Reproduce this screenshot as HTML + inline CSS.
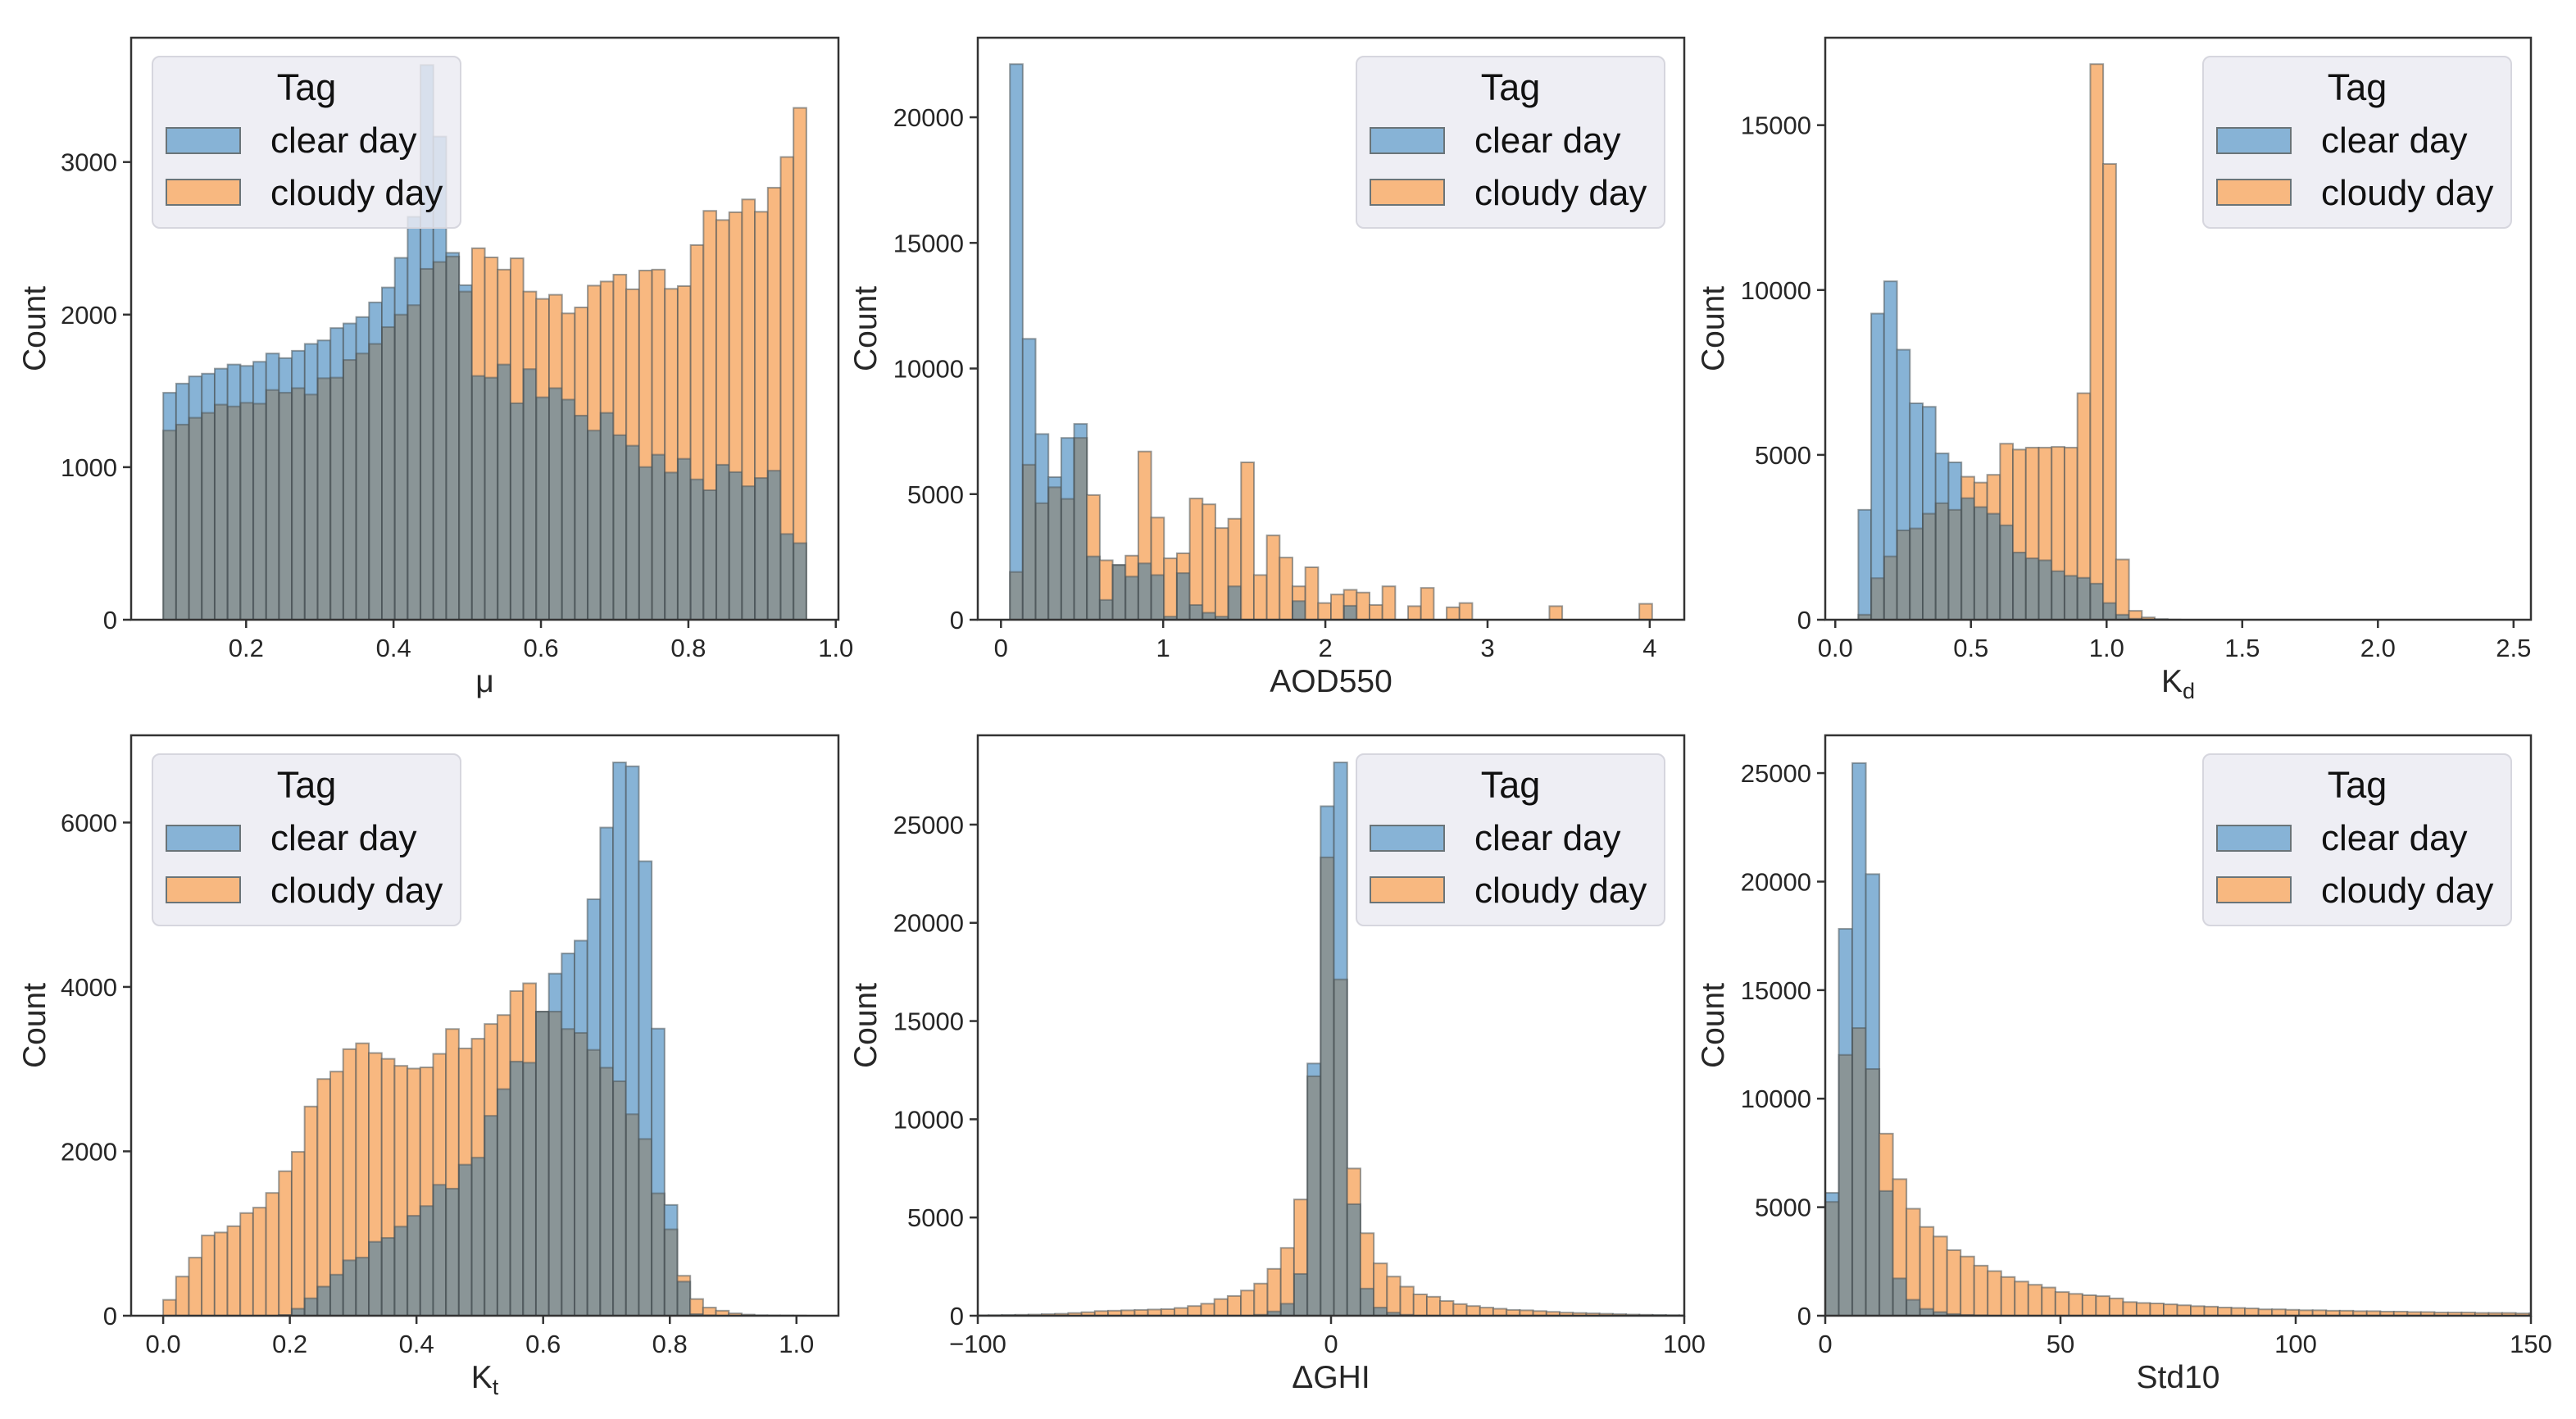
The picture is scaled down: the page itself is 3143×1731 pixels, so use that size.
<!DOCTYPE html>
<html><head><meta charset="utf-8"><style>
html,body{margin:0;padding:0;background:#fff;}
svg{display:block;font-family:"Liberation Sans",Arial,sans-serif;}
</style></head>
<body>
<svg id="fig" width="3143" height="1731" viewBox="0 0 3143 1731" xmlns="http://www.w3.org/2000/svg"></svg>
<script>
// ---- data ----
const clear1 = [1488,1548,1595,1613,1646,1673,1664,1691,1745,1715,1763,1808,1831,1912,1942,1984,2080,2178,2372,2641,3636,3167,2405,2193,1598,1587,1673,1419,1643,1458,1518,1443,1338,1240,1356,1210,1141,1001,1082,965,1055,920,849,1016,968,875,929,977,562,502];
const cloudy1 = [1240,1279,1324,1356,1410,1398,1422,1416,1506,1488,1518,1476,1583,1587,1703,1745,1808,1918,2000,2062,2300,2345,2381,2151,2435,2375,2295,2369,2151,2103,2130,2008,2047,2190,2217,2262,2166,2289,2295,2169,2187,2456,2680,2620,2671,2755,2674,2832,3033,3355];
const clear2 = [22115,11181,7392,5676,7238,7795,2521,789,2180,1717,2243,1779,124,1856,588,278,124,1330,0,0,0,0,742,0,0,0,557,0,0,0,0,0,0,0,0,0,0,0,0,0,0,0,0,0,0,0,0,0,0,0];
const cloudy2 = [1902,6171,4640,5274,4810,7238,4964,2366,2180,2552,6697,4067,2444,2645,4826,4594,3650,4021,6264,1779,3356,2475,1330,2088,665,1005,1191,1083,588,1330,0,541,1268,0,495,665,0,0,0,0,0,0,541,0,0,0,0,0,0,634];
const clear3 = [3335,9286,10264,8190,6564,6458,5044,4773,3688,3417,3217,2864,2039,1862,1803,1473,1332,1273,1096,507,153,30,10,0,0,0,0,0,0,0,0,0,0,0,0,0,0,0,0,0,0,0,0,0,0,0,0,0,0,0];
const cloudy3 = [153,1261,1921,2710,2769,3217,3535,3335,4337,4160,4396,5339,5161,5220,5220,5244,5220,6870,16851,13823,1827,271,71,20,5,0,0,0,0,0,0,0,0,0,0,0,0,0,0,0,0,0,0,0,0,0,0,0,0,0];
const clear4 = [0,0,0,0,0,0,0,0,0,10,85,212,354,500,674,707,900,947,1084,1216,1334,1593,1546,1838,1923,2432,2757,3092,3078,3700,4162,4407,4563,5067,5939,6731,6684,5529,3493,1348,415,20,5,0,0,0,0,0,0,0];
const cloudy4 = [193,476,707,976,1013,1089,1249,1315,1494,1758,1994,2545,2880,2970,3243,3314,3196,3125,3040,3007,3021,3186,3488,3252,3370,3549,3658,3950,4044,3700,3700,3488,3441,3234,3017,2852,2451,2150,1489,1051,486,203,99,61,28,14,6,4,3,2];
const clear5 = [0,0,0,0,0,0,0,0,0,0,0,0,0,0,0,0,0,0,0,0,0,50,217,611,2130,12840,25937,28166,5680,1381,414,158,50,0,0,0,0,0,0,0,0,0,0,0,0,0,0,0,0,0,0,0,0,0];
const cloudy5 = [25,30,40,50,60,80,99,138,178,237,256,276,296,316,335,394,493,611,848,1006,1282,1637,2387,3452,5917,12190,23333,17120,7495,4201,2663,1992,1479,1085,966,750,592,493,414,355,296,276,237,197,158,138,118,99,79,60,50,40,30,25];
const clear6 = [5663,17827,25461,20344,5747,1720,734,315,168,80,40,20,0,0,0,0,0,0,0,0,0,0,0,0,0,0,0,0,0,0,0,0,0,0,0,0,0,0,0,0,0,0,0,0,0,0,0,0,0,0,0,0,0];
const cloudy6 = [5243,12018,13255,11367,8389,6292,4929,4090,3649,3020,2727,2307,2055,1783,1573,1426,1300,1091,1007,944,902,797,629,587,566,524,482,440,419,378,357,336,294,294,273,252,252,231,231,210,210,189,189,168,168,147,147,147,126,126,126,105,105];
const xticks1 = [0.2,0.4,0.6,0.8,1.0]; const xtickLabels1 = ["0.2","0.4","0.6","0.8","1.0"];
const yticks1 = [0,1000,2000,3000];
const xticks2 = [0,1,2,3,4]; const xtickLabels2 = ["0","1","2","3","4"];
const yticks2 = [0,5000,10000,15000,20000];
const xticks3 = [0,0.5,1,1.5,2,2.5]; const xtickLabels3 = ["0.0","0.5","1.0","1.5","2.0","2.5"];
const yticks3 = [0,5000,10000,15000];
const xticks4 = [0,0.2,0.4,0.6,0.8,1.0]; const xtickLabels4 = ["0.0","0.2","0.4","0.6","0.8","1.0"];
const yticks4 = [0,2000,4000,6000];
const xticks5 = [-100,0,100]; const xtickLabels5 = ["\u2212100","0","100"];
const yticks5 = [0,5000,10000,15000,20000,25000];
const xticks6 = [0,50,100,150]; const xtickLabels6 = ["0","50","100","150"];
const yticks6 = [0,5000,10000,15000,20000,25000];

const NS = "http://www.w3.org/2000/svg";
const svg = document.getElementById("fig");
function mk(tag, attrs, parent){ const e=document.createElementNS(NS,tag); for(const k in attrs) e.setAttribute(k,attrs[k]); (parent||svg).appendChild(e); return e; }

const panels = [
 {id:1,box:[160,46,1023,756],bin0:0.0876,bw:0.01745,xlim:[0.044,1.0036],ymax:3815,clear:clear1,cloudy:cloudy1,xt:xticks1,xtl:xtickLabels1,yt:yticks1,label:["μ",""],leg:"left"},
 {id:2,box:[1193,46,2055,756],bin0:0.055,bw:0.0792,xlim:[-0.143,4.213],ymax:23167,clear:clear2,cloudy:cloudy2,xt:xticks2,xtl:xtickLabels2,yt:yticks2,label:["AOD550",""],leg:"right"},
 {id:3,box:[2227,46,3088,756],bin0:0.085,bw:0.0475,xlim:[-0.037,2.564],ymax:17652,clear:clear3,cloudy:cloudy3,xt:xticks3,xtl:xtickLabels3,yt:yticks3,label:["K","d"],leg:"right"},
 {id:4,box:[160,897,1023,1605],bin0:0,bw:0.0203,xlim:[-0.0506,1.0663],ymax:7061,clear:clear4,cloudy:cloudy4,xt:xticks4,xtl:xtickLabels4,yt:yticks4,label:["K","t"],leg:"left"},
 {id:5,box:[1193,897,2055,1605],bin0:-100.7,bw:3.76,xlim:[-100,100],ymax:29546,clear:clear5,cloudy:cloudy5,xt:xticks5,xtl:xtickLabels5,yt:yticks5,label:["ΔGHI",""],leg:"right"},
 {id:6,box:[2227,897,3088,1605],bin0:0,bw:2.878,xlim:[0,150],ymax:26740,clear:clear6,cloudy:cloudy6,xt:xticks6,xtl:xtickLabels6,yt:yticks6,label:["Std10",""],leg:"right"}
];

const BLUE="#87b3d6", ORANGE="#f8b880", GRAY="#8a9597";

panels.forEach(p=>{
  const [L,T,R,B]=p.box;
  const xs = v => L + (v-p.xlim[0])/(p.xlim[1]-p.xlim[0])*(R-L);
  const ys = v => B - v/p.ymax*(B-T);
  const g = mk("g",{});
  
  
  const cp = mk("clipPath",{id:"clip"+p.id},g);
  mk("rect",{x:L,y:T,width:R-L,height:B-T},cp);
  const bars = mk("g",{"clip-path":"url(#clip"+p.id+")"},g);
  
  
  p.clear.forEach((c,i)=>{
    const o = p.cloudy[i];
    const x0 = xs(p.bin0+i*p.bw), x1 = xs(p.bin0+(i+1)*p.bw);
    const lo = Math.min(c,o), hi=Math.max(c,o);
    if(lo>0){
      const r = mk("rect",{x:x0,y:ys(lo),width:x1-x0,height:B-ys(lo),fill:GRAY},bars);
      
      
    }
    if(hi>lo){
      const r = mk("rect",{x:x0,y:ys(hi),width:x1-x0,height:ys(lo)-ys(hi),fill:(c>o?BLUE:ORANGE)},bars);
      
      
    }
    [c,o].forEach(v=>{ if(v>0){ mk("rect",{x:x0,y:ys(v),width:x1-x0,height:B-ys(v),fill:"none",stroke:"#4a5358","stroke-opacity":"0.55","stroke-width":"2"},bars); }});
  });
  const fr = mk("rect",{x:L,y:T,width:R-L,height:B-T,fill:"none",stroke:"#333","stroke-width":"2.5"},g);
  
  
  p.xt.forEach((v,i)=>{
    const x=xs(v);
    mk("line",{x1:x,y1:B,x2:x,y2:B+10,stroke:"#333","stroke-width":"2.5"},g);
    const t=mk("text",{x:x,y:B+45,"font-size":"31","text-anchor":"middle",fill:"#262626"},g);
    t.textContent=p.xtl[i];
    
    
  });
  let maxLen=0;
  p.yt.forEach(v=>{
    const y=ys(v);
    maxLen=Math.max(maxLen,String(v).length);
    mk("line",{x1:L-10,y1:y,x2:L,y2:y,stroke:"#333","stroke-width":"2.5"},g);
    const t=mk("text",{x:L-17,y:y+11,"font-size":"31","text-anchor":"end",fill:"#262626"},g);
    t.textContent=String(v);
    
    
  });
  const xl=mk("text",{x:(L+R)/2,y:B+88,"font-size":"39","text-anchor":"middle",fill:"#262626"},g);
  
  
  xl.appendChild(document.createTextNode(p.label[0]));
  if(p.label[1]){ const s=mk("tspan",{"font-size":"27",dy:"8"},xl); s.textContent=p.label[1]; }
  const yoff = maxLen>=5 ? 124 : 105;
  const yl=mk("text",{x:0,y:0,"font-size":"39","text-anchor":"middle",fill:"#262626",transform:`translate(${L-yoff},${(T+B)/2}) rotate(-90)`},g);
  yl.textContent="Count";
  
  
  const lx = p.leg==="left" ? L+26 : R-24-376, ly=T+23;
  const lg=mk("g",{},g);
  
  
  mk("rect",{x:lx,y:ly,width:376,height:209,rx:9,fill:"#eaeaf2","fill-opacity":"0.82",stroke:"#d6d6de","stroke-width":"2"},lg);
  const tt=mk("text",{x:lx+188,y:ly+53,"font-size":"45","text-anchor":"middle",fill:"#111"},lg);
  tt.textContent="Tag";
  
  
  [["clear day",BLUE,87,117],["cloudy day",ORANGE,150,181]].forEach(e=>{
    const pr=mk("rect",{x:lx+17,y:ly+e[2],width:90,height:31,fill:e[1],stroke:"#6a7478","stroke-width":"2"},lg);
    
    
    const et=mk("text",{x:lx+144,y:ly+e[3],"font-size":"44",fill:"#111"},lg);
    et.textContent=e[0];
    
    
  });
});
</script>
</body></html>
